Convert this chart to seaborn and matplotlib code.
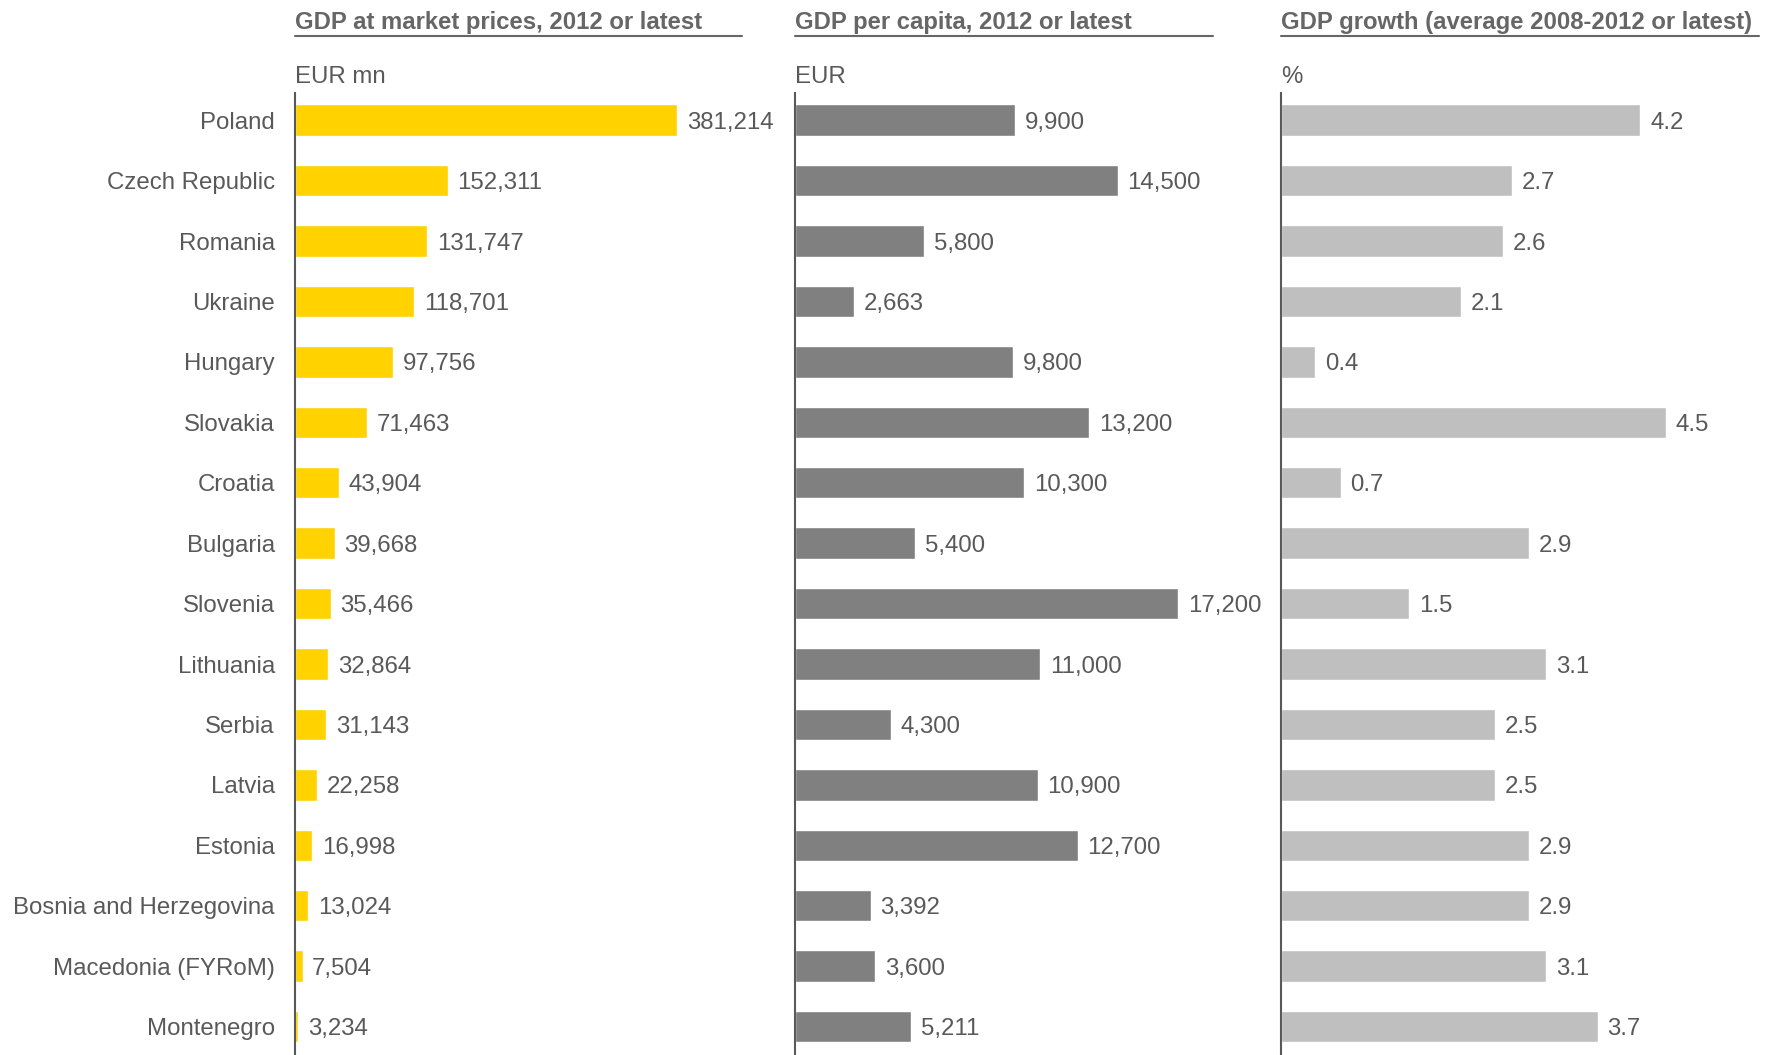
import pandas as pd
import seaborn as sns
import matplotlib.pyplot as plt
from matplotlib.lines import Line2D

# dados
countries = ['Poland', 'Czech Republic', 'Romania', 'Ukraine', 'Hungary', 'Slovakia',
             'Croatia', 'Bulgaria', 'Slovenia', 'Lithuania', 'Serbia', 'Latvia',
             'Estonia', 'Bosnia and Herzegovina', 'Macedonia (FYRoM)', 'Montenegro']
gdp = [381214, 152311, 131747, 118701, 97756, 71463, 43904, 39668, 35466,
       32864, 31143, 22258, 16998, 13024, 7504, 3234]
gdp_pc = [9900, 14500, 5800, 2663, 9800, 13200, 10300, 5400, 17200,
          11000, 4300, 10900, 12700, 3392, 3600, 5211]
growth = [4.2, 2.7, 2.6, 2.1, 0.4, 4.5, 0.7, 2.9, 1.5, 3.1, 2.5, 2.5, 2.9, 2.9, 3.1, 3.7]

titles = ['GDP at market prices, 2012 or latest', 'GDP per capita, 2012 or latest',
          'GDP growth (average 2008-2012 or latest)']
units = ['EUR mn', 'EUR', '%']

df = pd.DataFrame({'country': countries, 'gdp': gdp, 'gdp_pc': gdp_pc, 'growth': growth})

sns.set_style('white')
plt.rcParams['font.family'] = ['Liberation Sans', 'DejaVu Sans']

txt = '#595959'
W, H = 1771, 1055
fig = plt.figure(figsize=(W / 100, H / 100), dpi=100)

# (coluna, cor, esquerda px, direita px, xmax, formato)
panels = [
    ('gdp', '#FFD200', 295, 742, 446085, lambda v: f'{v:,.0f}'),
    ('gdp_pc', '#808080', 795, 1213, 18772, lambda v: f'{v:,.0f}'),
    ('growth', '#BFBFBF', 1281, 1759, 5.587, lambda v: f'{v:.1f}'),
]

top_px = 93
for i, (col, color, x0, x1, xmax, fmt) in enumerate(panels):
    ax = fig.add_axes([x0 / W, 0, (x1 - x0) / W, 1 - top_px / H])
    sns.barplot(data=df, x=col, y='country', color=color, width=0.52,
                saturation=1, orient='h', ax=ax)
    ax.set_xlim(0, xmax)
    ax.set_ylim(15.47, -0.45)
    ax.set_xlabel('')
    ax.set_ylabel('')
    ax.set_xticks([])
    for s in ['top', 'right', 'bottom']:
        ax.spines[s].set_visible(False)
    ax.spines['left'].set_color(txt)
    ax.spines['left'].set_linewidth(1.5)
    if i == 0:
        ax.tick_params(axis='y', length=0, pad=14.5, labelsize=17.3, labelcolor=txt)
    else:
        ax.set_yticks([])
    lbls = ax.bar_label(ax.containers[0], labels=[fmt(v) for v in df[col]],
                        padding=7, fontsize=17.3, color=txt)
    for t in lbls:
        t.set_va('center_baseline')

    # titulo, sublinhado e unidade
    fig.text(x0 / W, 1 - 22 / H, titles[i], fontsize=17.2, fontweight='bold',
             color='#666666', ha='left', va='center')
    fig.add_artist(Line2D([x0 / W, x1 / W], [1 - 36 / H, 1 - 36 / H],
                          color='#666666', linewidth=1.5))
    fig.text(x0 / W, 1 - 77 / H, units[i], fontsize=17.3, color=txt,
             ha='left', va='center')

plt.savefig('out.png', dpi=100)
